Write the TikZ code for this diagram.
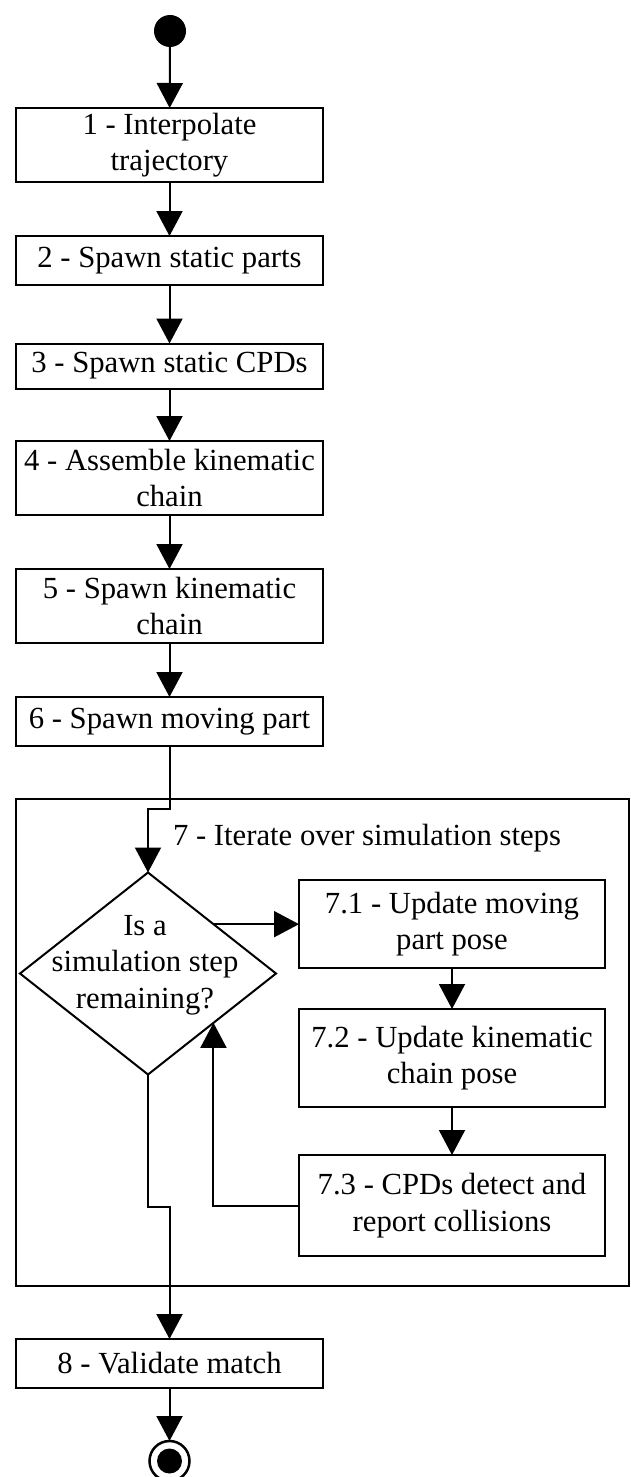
\documentclass[tikz,border=0pt]{standalone}
\usepackage{fontspec}
\setmainfont{Liberation Serif}
\usetikzlibrary{arrows.meta,shapes.geometric}
\begin{document}
\begin{tikzpicture}[x=1pt,y=-1pt,
  every node/.style={font=\fontsize{30.7}{36.5}\selectfont, inner sep=0pt, outer sep=0pt},
  stepbox/.style={draw, line width=2pt, minimum width=307pt, align=center},
  subbox/.style={draw, line width=2pt, minimum width=306pt, align=center},
  flow/.style={line width=2pt, -{Triangle[length=25pt,width=26pt]}},
  plain/.style={line width=2pt}]
\useasboundingbox (0,0) rectangle (631,1477);

% initial state
\node[circle, fill=black, minimum size=32pt] (start) at (170,31) {};

% sequential steps
\node[stepbox, minimum height=74pt] (b1) at (169.5,145) {1 - Interpolate\\trajectory};
\node[stepbox, minimum height=49pt] (b2) at (169.5,260.5) {2 - Spawn static parts};
\node[stepbox, minimum height=45pt] (b3) at (169.5,366) {3 - Spawn static CPDs};
\node[stepbox, minimum height=74pt] (b4) at (169.5,478) {4 - Assemble kinematic\\chain};
\node[stepbox, minimum height=74pt] (b5) at (169.5,606) {5 - Spawn kinematic\\chain};
\node[stepbox, minimum height=49pt] (b6) at (169.5,721.5) {6 - Spawn moving part};

% loop region
\node[draw, line width=2pt, minimum width=613pt, minimum height=487pt] (loop) at (322.5,1042.5) {};
\node[anchor=base west] (looplabel) at (173,845) {7 - Iterate over simulation steps};

\node[diamond, draw, line width=2pt, minimum width=256pt, minimum height=202pt] (d) at (148,973.5) {};
\node[align=center] (dtext) at (145,965) {Is a\\simulation step\\remaining?};

\node[subbox, minimum height=88pt] (b71) at (452,924) {7.1 - Update moving\\part pose};
\node[subbox, minimum height=98pt] (b72) at (452,1058) {7.2 - Update kinematic\\chain pose};
\node[subbox, minimum height=101pt] (b73) at (452,1205.5) {7.3 - CPDs detect and\\report collisions};

% final step and end state
\node[stepbox, minimum height=49pt] (b8) at (169.5,1363.5) {8 - Validate match};
\node[circle, draw, line width=2.5pt, minimum size=40pt] (end) at (169.5,1461) {};
\node[circle, fill=black, minimum size=25pt] (endin) at (end.center) {};

% connectors
\coordinate (j2) at (148,809);
\coordinate (j3) at (169.5,1207);

\draw[flow] (start) -- (b1);
\draw[flow] (b1) -- (b2);
\draw[flow] (b2) -- (b3);
\draw[flow] (b3) -- (b4);
\draw[flow] (b4) -- (b5);
\draw[flow] (b5) -- (b6);
\draw[flow] (b6.south) |- (j2) -- (d.north);
\draw[flow] (d.37.6) -- (d.37.6 -| b71.west);
\draw[flow] (b71) -- (b72);
\draw[flow] (b72) -- (b73);
\draw[flow] (b73.west) -| (d.-37.6);
\draw[flow] (d.south) |- (j3) -- (b8.north);
\draw[flow] (b8) -- (end);
\end{tikzpicture}
\end{document}
